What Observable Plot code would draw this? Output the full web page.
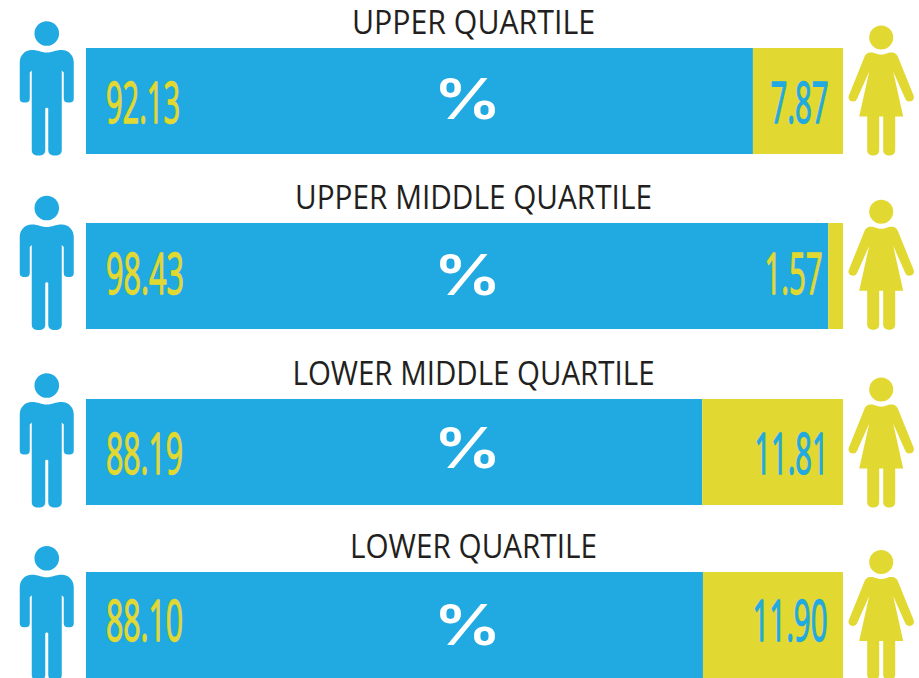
<!DOCTYPE html>
<html><head><meta charset="utf-8">
<script src="https://cdn.jsdelivr.net/npm/d3@7"></script>
<script src="https://cdn.jsdelivr.net/npm/@observablehq/plot@0.6"></script>
<style>html,body{margin:0;padding:0;background:#fff;overflow:hidden}svg{display:block}</style>
</head><body>
<div id="chart"></div>
<script>
const quartiles = ["UPPER QUARTILE","UPPER MIDDLE QUARTILE","LOWER MIDDLE QUARTILE","LOWER QUARTILE"];
const menLabels = ["92.13","98.43","88.19","88.10"];
const womenLabels = ["7.87","1.57","11.81","11.90"];
// Where the drawn bars actually split (it differs from the printed labels).
const drawnSplit = [88.1,98.05,81.4,81.5];

const BLUE="#21a9e1", YELLOW="#e1d831", INK="#231f20";
const NUMFONT="'Liberation Sans Narrow','Open Sans',sans-serif";

// Per-row layout, kept apart from the data.
const rowDy=[0,0.34,1.67,0];
const titleLen=[243,357,362,247];
const menLen=[74,78,77,77];
const womenLen=[58,58,74,75];
const womenEnd=[-15,-21,-15,-16];
const numDy=[4,0,4,-2.5];
const personDy=[0,-0.5,1,0.7];
const womanDy=[0,-0.7,1,0.5];
const pctDy=[0,1,-2,2];

const rows=quartiles.map((q,i)=>({q,i,split:drawnSplit[i],ml:menLabels[i],wl:womenLabels[i]}));

const person={draw(c){
  c.moveTo(12.3,-68);c.arc(0,-68,12.3,0,2*Math.PI);c.closePath();
  const t=-52;
  c.moveTo(-15,t+0.5);
  c.bezierCurveTo(-8,t+0.5,-6,t+3,0,t+3);
  c.bezierCurveTo(6,t+3,8,t+0.5,15,t+0.5);
  c.bezierCurveTo(22,t+0.5,27,t+6,27,t+13);
  c.lineTo(27,-3);c.arcTo(27,1,23,1,4);c.lineTo(21,1);c.arcTo(17,1,17,-3,4);
  c.lineTo(17,-29);c.lineTo(15,-31);c.lineTo(15,49);c.arcTo(15,54,10,54,5);
  c.lineTo(6,54);c.arcTo(1.5,54,1.5,49,5);c.lineTo(1.5,7);c.lineTo(0,6);c.lineTo(-1.5,7);
  c.lineTo(-1.5,49);c.arcTo(-1.5,54,-6,54,5);c.lineTo(-10,54);c.arcTo(-15,54,-15,49,5);
  c.lineTo(-15,-31);c.lineTo(-17,-29);c.lineTo(-17,-3);c.arcTo(-17,1,-21,1,4);c.lineTo(-23,1);c.arcTo(-27,1,-27,-3,4);
  c.lineTo(-27,t+13);c.bezierCurveTo(-27,t+6,-22,t+0.5,-15,t+0.5);c.closePath();
}};
const woman={draw(c){
  c.moveTo(12,-64);c.arc(0,-64,12,0,2*Math.PI);c.closePath();
  c.moveTo(-10,-49);
  c.bezierCurveTo(-6,-49,-5,-47,0,-47);
  c.bezierCurveTo(5,-47,6,-49,10,-49);
  c.bezierCurveTo(14,-49,16,-47,17,-44);
  c.lineTo(32,-7);c.arcTo(34,-1,28,0,4);c.lineTo(27,0);c.arcTo(25,0,24,-3,4);
  c.lineTo(12,-30);c.lineTo(22,15);c.lineTo(14,15);c.lineTo(14,49);c.arcTo(14,54,9,54,5);
  c.lineTo(7,54);c.arcTo(2,54,2,49,5);c.lineTo(2,15);c.lineTo(-2,15);c.lineTo(-2,49);c.arcTo(-2,54,-7,54,5);
  c.lineTo(-9,54);c.arcTo(-14,54,-14,49,5);c.lineTo(-14,15);c.lineTo(-22,15);c.lineTo(-12,-30);
  c.lineTo(-24,-3);c.arcTo(-25,0,-27,0,4);c.lineTo(-28,0);c.arcTo(-34,-1,-32,-7,4);c.lineTo(-17,-44);
  c.bezierCurveTo(-16,-47,-14,-49,-10,-49);c.closePath();
}};

// textLength keeps the labels real text while matching the reference's condensed face
const squeeze=(len)=>(index,scales,values,dims,context,next)=>{
  const g=next(index,scales,values,dims,context);
  g.querySelectorAll("text").forEach(t=>{
    t.setAttribute("textLength",len);
    t.setAttribute("lengthAdjust","spacingAndGlyphs");
  });
  return g;
};

const chart=Plot.plot({
  width:919,height:678,margin:0,
  style:{background:"#fff"},
  x:{domain:[0,100],range:[86,843],axis:null},
  y:{type:"band",domain:quartiles,range:[48,678],round:false,paddingInner:0.39313,paddingOuter:0,align:0,axis:null},
  marks:rows.flatMap(r=>{
    const base=rowDy[r.i];
    const num={y:"q",fontFamily:NUMFONT,fontSize:56,lineAnchor:"middle",strokeWidth:1.4};
    const womenInk=r.i==1?YELLOW:BLUE;
    return [
      Plot.barX([r],{x1:()=>0,x2:"split",y:"q",dy:base,fill:BLUE}),
      Plot.barX([r],{x1:"split",x2:()=>100,y:"q",dy:base,fill:YELLOW}),
      Plot.dot([r],{x:()=>-5.25,y:"q",dy:base+personDy[r.i],r:1,symbol:person,fill:BLUE,stroke:"none"}),
      Plot.dot([r],{x:()=>104.98,y:"q",dy:base+womanDy[r.i],r:1,symbol:woman,fill:YELLOW,stroke:"none"}),
      Plot.text([r],{x:()=>50,y:"q",text:()=>"%",dx:2.5,dy:base+pctDy[r.i],fill:"#fff",fontFamily:"Inter,sans-serif",fontWeight:600,fontSize:56,textAnchor:"middle",lineAnchor:"middle",render:squeeze(68)}),
      Plot.text([r],{x:()=>50,y:"q",text:"q",dx:8.5,dy:base-78,fill:INK,fontFamily:"'Open Sans',sans-serif",fontSize:32,textAnchor:"middle",lineAnchor:"middle",render:squeeze(titleLen[r.i])}),
      Plot.text([r],{...num,x:()=>0,text:"ml",dx:19.5,dy:base+numDy[r.i],fill:YELLOW,stroke:YELLOW,textAnchor:"start",render:squeeze(menLen[r.i])}),
      Plot.text([r],{...num,x:()=>100,text:"wl",dx:womenEnd[r.i],dy:base+numDy[r.i],fill:womenInk,stroke:womenInk,textAnchor:"end",render:squeeze(womenLen[r.i])})
    ];
  })
});
document.getElementById("chart").append(chart);
</script>
</body></html>
